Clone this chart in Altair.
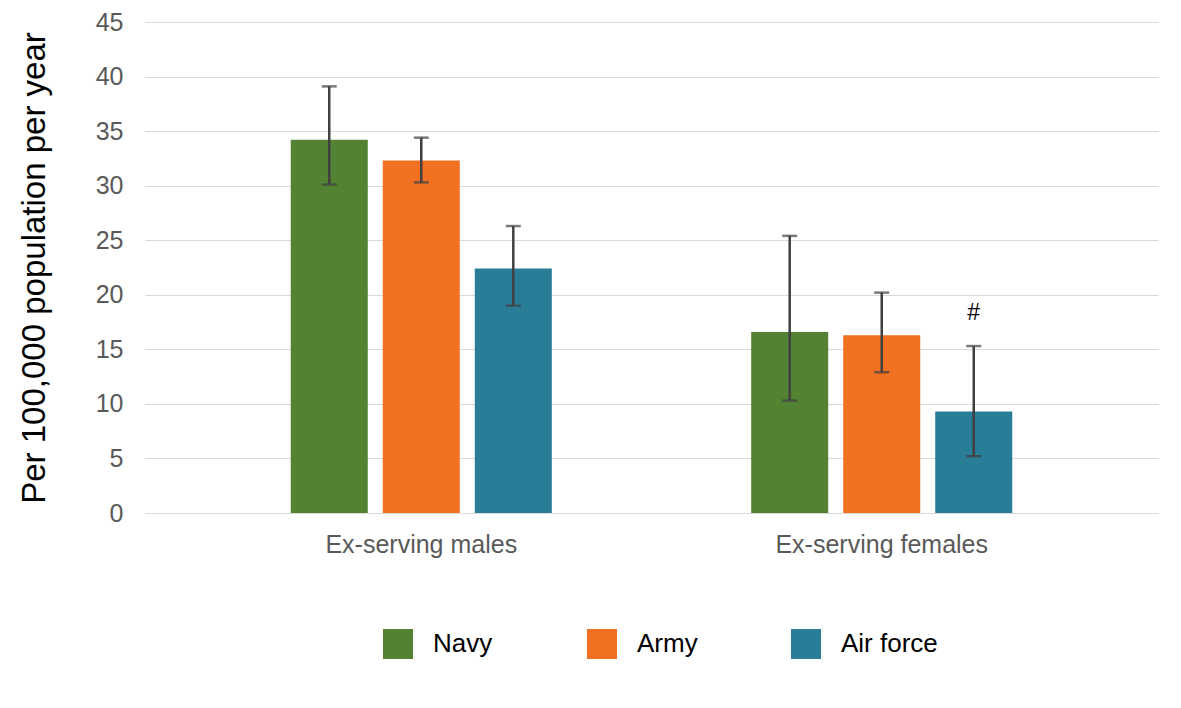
import altair as alt
import pandas as pd

groups = ["Ex-serving males", "Ex-serving females"]
services = ["Navy", "Army", "Air force"]
colors = ["#538232", "#F27022", "#2A7D97"]

rate_males = [34.2, 32.3, 22.4]
lower_males = [30.1, 30.3, 19.0]
upper_males = [39.1, 34.4, 26.3]

rate_females = [16.6, 16.3, 9.3]
lower_females = [10.3, 12.9, 5.2]
upper_females = [25.4, 20.2, 15.3]

notes_males = ["", "", ""]
notes_females = ["", "", "#"]

rows = []
for g, rates, lows, ups, notes in [
    (groups[0], rate_males, lower_males, upper_males, notes_males),
    (groups[1], rate_females, lower_females, upper_females, notes_females),
]:
    for s, r, lo, up, n in zip(services, rates, lows, ups, notes):
        rows.append({"group": g, "service": s, "rate": r, "lower": lo, "upper": up, "note": n})
df = pd.DataFrame(rows)

FONT = "Liberation Sans"

x = alt.X("group:N", sort=groups, title=None,
          scale=alt.Scale(paddingInner=0.2, paddingOuter=0.2),
          axis=alt.Axis(labelAngle=0, labelFontSize=25, labelColor="#595959",
                        labelPadding=19, domain=False, ticks=False, labelFont=FONT,
                        labelLimit=0))
xo = alt.XOffset("service:N", sort=services,
                 scale=alt.Scale(paddingInner=0.163, paddingOuter=0.583))

base = alt.Chart(df)

bars = base.mark_bar().encode(
    x=x, xOffset=xo,
    y=alt.Y("rate:Q", title="Per 100,000 population per year",
            scale=alt.Scale(domain=[0, 45]),
            axis=alt.Axis(values=list(range(0, 50, 5)), labelFontSize=25,
                          labelColor="#595959", labelPadding=22, ticks=False,
                          domain=False, titleFontSize=33, titleFontWeight="normal",
                          titleColor="#000000", titlePadding=44, labelFont=FONT,
                          titleFont=FONT, gridColor="#d9d9d9")),
    color=alt.Color("service:N", sort=services,
                    scale=alt.Scale(domain=services, range=colors),
                    legend=alt.Legend(title=None, orient="none", direction="horizontal",
                                      legendX=238, legendY=607, symbolType="square",
                                      symbolSize=900, symbolStrokeWidth=0,
                                      labelFontSize=26, labelOffset=20,
                                      labelColor="#000000", labelFont=FONT,
                                      columnPadding=57, gridAlign="all", padding=0,
                                      symbolOpacity=1, labelLimit=0)),
)

rules = base.mark_rule(color="#404040", strokeWidth=2.5).encode(
    x=x, xOffset=xo, y="lower:Q", y2="upper:Q")

caps_lo = base.mark_tick(color="#404040", thickness=2.5, size=15, orient="horizontal").encode(
    x=x, xOffset=xo, y="lower:Q")
caps_hi = base.mark_tick(color="#404040", thickness=2.5, size=15, orient="horizontal").encode(
    x=x, xOffset=xo, y="upper:Q")

notes = base.mark_text(fontSize=23, color="#000000", dy=-33, baseline="middle", font=FONT).encode(
    x=x, xOffset=xo, y="upper:Q", text="note:N")

chart = alt.layer(bars, rules, caps_lo, caps_hi, notes).properties(
    width=1013, height=491,
    autosize=alt.AutoSizeParams(type="none"),
    padding={"left": 145, "top": 22, "right": 23, "bottom": 195},
).configure(font=FONT, view=alt.ViewConfig(stroke=None))

chart.save("out.html", embed_options={"renderer": "svg", "actions": False})
